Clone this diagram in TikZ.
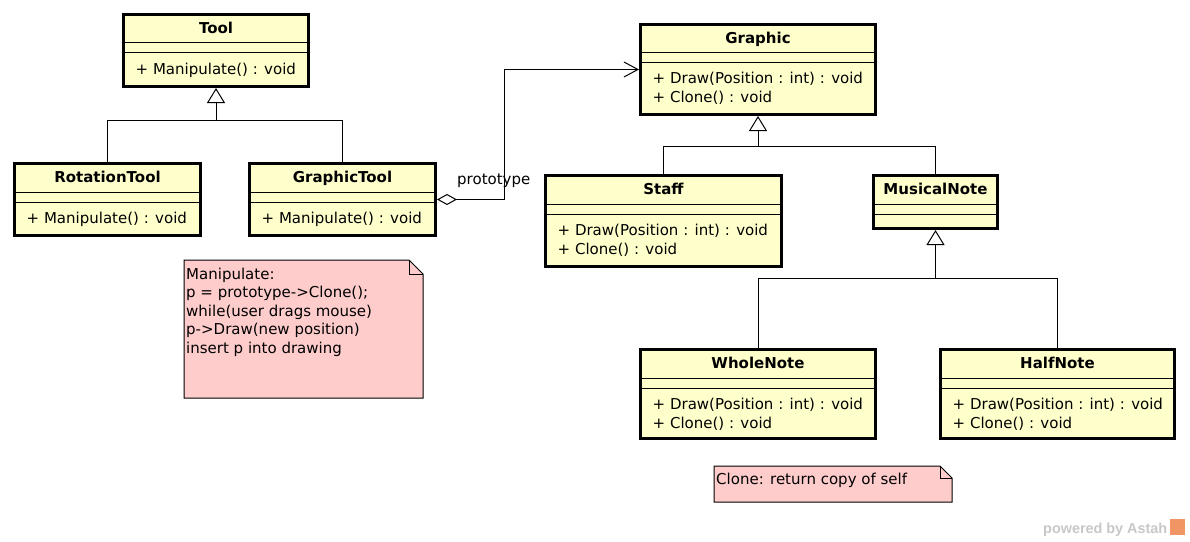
\documentclass[tikz,border=0pt]{standalone}
\usepackage{fontspec}
\setmainfont{DejaVu Sans}
\newfontfamily\wmfont{Liberation Sans}
\usetikzlibrary{arrows.meta,fit,calc}
\definecolor{clsfill}{RGB}{255,255,204}
\definecolor{notefill}{RGB}{255,204,204}
\definecolor{wmgray}{RGB}{200,200,200}
\definecolor{wmorange}{RGB}{240,150,100}
\tikzset{
  classbox/.style={draw=black, line width=3pt, fill=clsfill, inner sep=0pt},
  comp/.style={line width=1pt, black},
  ctitle/.style={font=\fontsize{15}{19}\selectfont\bfseries, anchor=base, inner sep=0pt},
  member/.style={font=\fontsize{15}{19}\selectfont, anchor=base west, inner sep=0pt},
  conn/.style={line width=1pt, black},
  inh/.style={conn, -{Triangle[length=15pt,width=18pt,fill=white,line width=1pt]}},
  agg/.style={conn, {Diamond[length=20pt,width=11pt,fill=white,line width=1pt]}-{Straight Barb[length=14pt,width=15pt,line width=1pt]}},
  notebox/.style={draw=black, line width=1pt, fill=notefill},
  notefold/.style={line width=1pt, black},
  lbl/.style={font=\fontsize{15}{19}\selectfont, anchor=base west, inner sep=0pt},
}
\newcommand{\umlcls}[7]{%
  \node[classbox, fit={({#2+1.5},{#3+1.5}) ({#4-1.5},{#5-1.5})}] (#1) {};
  \draw[comp] (#2,#6) -- (#4,#6);
  \draw[comp] (#2,{#6+10}) -- (#4,{#6+10});
  \node[ctitle] (#1-title) at ({(#2+#4)/2},{(#3+#6)/2+5.5}) {#7};
}
\newcommand{\umlmem}[4]{\node[member] (#1) at (#2,#3) {#4};}
\newcommand{\umlnote}[5]{%
  \path[notebox] (#1,#2) -- ({#3-#5},#2) -- (#3,{#2+#5}) -- (#3,#4) -- (#1,#4) -- cycle;
  \draw[notefold] ({#3-#5},#2) -- ({#3-#5},{#2+#5}) -- (#3,{#2+#5});
}
\begin{document}
\begin{tikzpicture}[x=1pt,y=-1pt]
\useasboundingbox (0,0) rectangle (1190,541);
\fill[white] (0,0) rectangle (1190,541);

% classes
\umlcls{tool}{122}{13}{310}{88}{42}{Tool}
\umlmem{tool-m1}{135.5}{74.5}{+ Manipulate() : void}

\umlcls{rotationtool}{13}{162}{202}{237}{192}{RotationTool}
\umlmem{rotationtool-m1}{26.5}{223.5}{+ Manipulate() : void}

\umlcls{graphictool}{248}{162}{437}{237}{192}{GraphicTool}
\umlmem{graphictool-m1}{261.5}{223.5}{+ Manipulate() : void}

\umlcls{graphic}{639}{23}{877}{116}{52}{Graphic}
\umlmem{graphic-m1}{652.5}{83.5}{+ Draw(Position : int) : void}
\umlmem{graphic-m2}{652.5}{102.5}{+ Clone() : void}

\umlcls{staff}{544}{174}{783}{268}{204}{Staff}
\umlmem{staff-m1}{557.5}{235.5}{+ Draw(Position : int) : void}
\umlmem{staff-m2}{557.5}{254.5}{+ Clone() : void}

\umlcls{musicalnote}{872}{174}{999}{230}{204}{MusicalNote}

\umlcls{wholenote}{639}{348}{877}{440}{378}{WholeNote}
\umlmem{wholenote-m1}{652.5}{409.5}{+ Draw(Position : int) : void}
\umlmem{wholenote-m2}{652.5}{428.5}{+ Clone() : void}

\umlcls{halfnote}{939}{348}{1176}{440}{378}{HalfNote}
\umlmem{halfnote-m1}{952.5}{409.5}{+ Draw(Position : int) : void}
\umlmem{halfnote-m2}{952.5}{428.5}{+ Clone() : void}

% generalizations
\coordinate (j1) at (216,120);
\draw[conn] (rotationtool.north) |- (j1);
\draw[conn] (graphictool.north) |- (j1);
\draw[inh] (j1) -- (tool.south);

\coordinate (j2) at (758,146);
\draw[conn] (staff.north) |- (j2);
\draw[conn] (musicalnote.north |- j2) -- (j2);
\draw[conn] (musicalnote.north) -- (musicalnote.north |- j2);
\draw[inh] (j2) -- (graphic.south);

\coordinate (j3) at (935.5,278);
\draw[conn] (wholenote.north) |- (j3);
\draw[conn] (halfnote.north) |- (j3);
\draw[inh] (j3) -- (musicalnote.south);

% aggregation
\coordinate (aggbend) at (504,199.5);
\draw[agg] (graphictool.east) -- (aggbend) |- (graphic.west);
\node[lbl] (protolbl) at (457,184) {prototype};

% notes
\umlnote{184}{260}{423}{398}{14}
\node[lbl] (n1l1) at (186,279) {Manipulate:};
\node[lbl] (n1l2) at (186,297.5) {p = prototype->Clone();};
\node[lbl] (n1l3) at (186,316) {while(user drags mouse)};
\node[lbl] (n1l4) at (186,334.5) {p->Draw(new position)};
\node[lbl] (n1l5) at (186,353) {insert p into drawing};

\umlnote{714}{466}{952}{502}{12}
\node[lbl] (n2l1) at (716,484) {Clone: return copy of self};

% watermark
\node[font=\wmfont\bfseries\fontsize{14.4}{16}\selectfont, text=wmgray, anchor=base west, inner sep=0pt] (wm) at (1043,533) {powered by Astah};
\fill[wmorange] (1170,519) rectangle (1185,535);
\end{tikzpicture}
\end{document}
